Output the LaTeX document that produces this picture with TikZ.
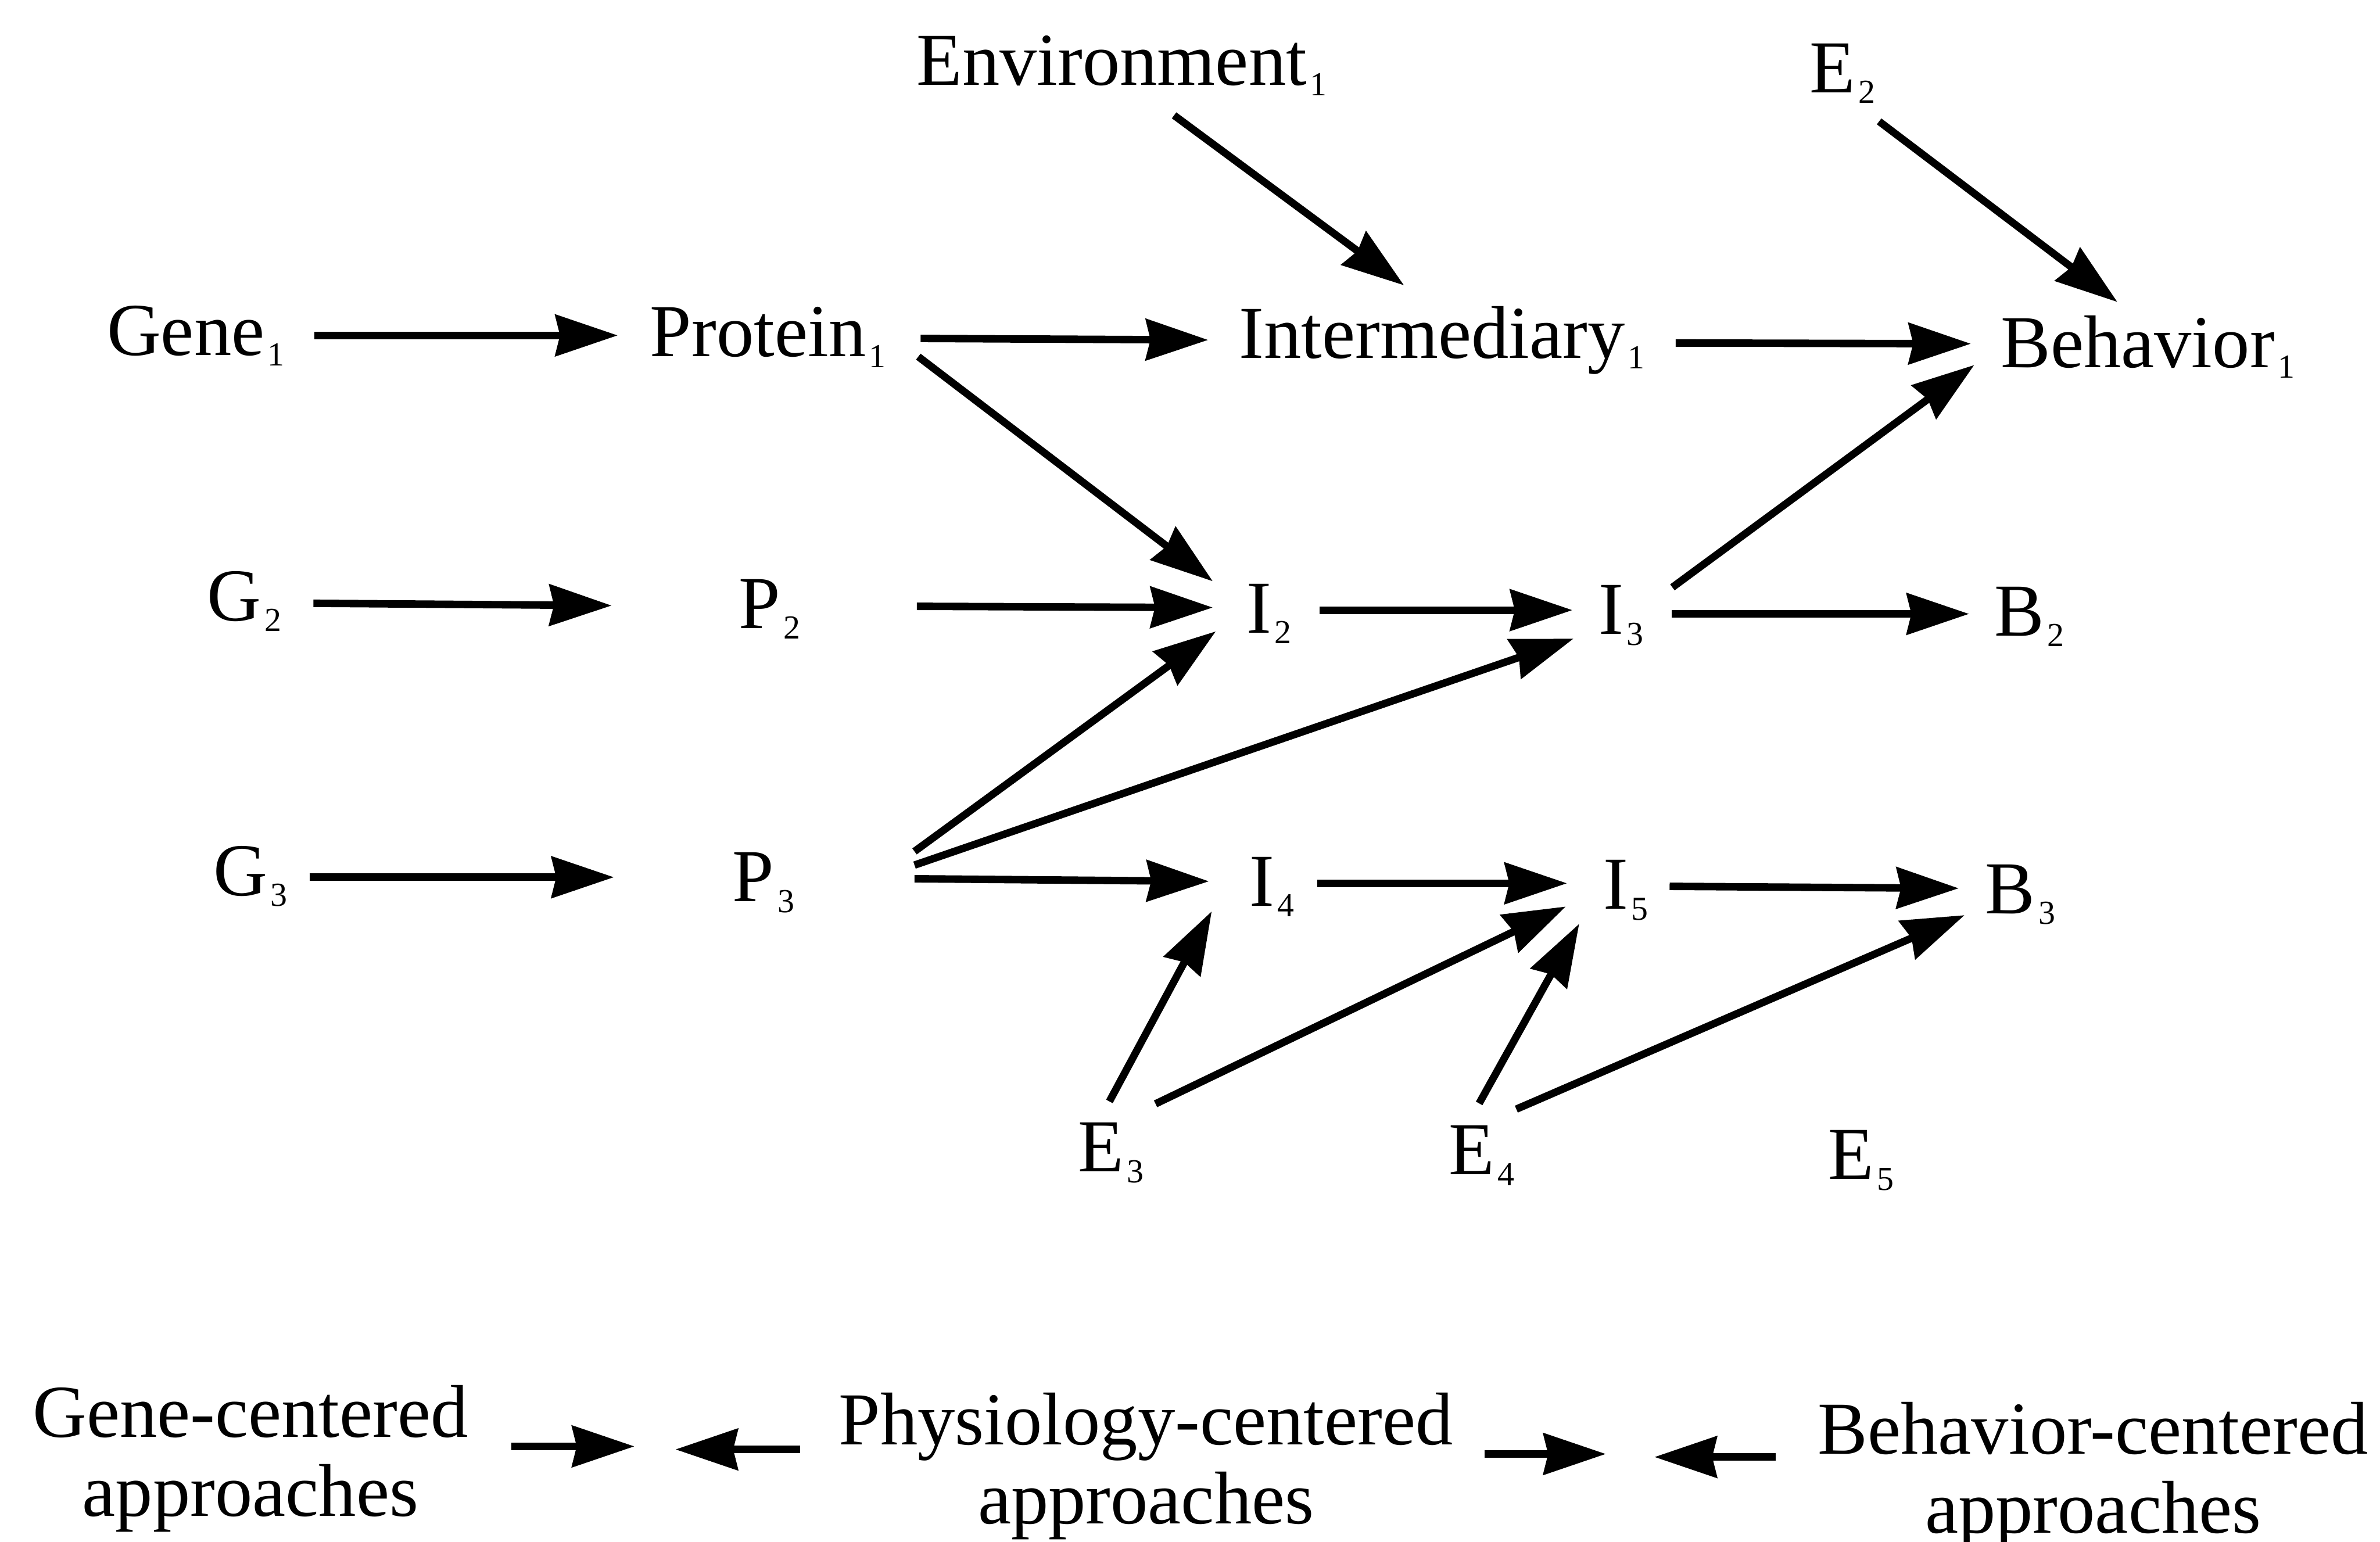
\documentclass[tikz,border=0pt]{standalone}
\usepackage{fontspec}
\setmainfont{Liberation Serif}
\usetikzlibrary{arrows.meta}
% small lowered index after a label
\newcommand\sbs[1]{\kern0.6pt\raisebox{-2pt}{\fontsize{6.3}{6.3}\selectfont #1}}
\begin{document}
\begin{tikzpicture}[x=0.01cm,y=-0.01cm,
  lbl/.style={anchor=base,inner sep=0pt,font=\fontsize{14}{14.8}\selectfont},
  arr/.style={line width=1.4pt,-{Stealth[length=0.41cm,width=0.27cm,inset=0.03cm]}}]
\useasboundingbox (0,0) rectangle (1568,1016);

% ---- labels (placed by text centre and baseline) ----
\node[lbl] (env) at (739,56)  {Environment\sbs{1}};
\node[lbl] (e2)  at (1214,61) {E\sbs{2}};

\node[lbl] (g1) at (129,234)  {Gene\sbs{1}};
\node[lbl] (p1) at (506,235)  {Protein\sbs{1}};
\node[lbl] (i1) at (950,236)  {Intermediary\sbs{1}};
\node[lbl] (b1) at (1415,242) {Behavior\sbs{1}};

\node[lbl] (g2) at (161,409)  {G\sbs{2}};
\node[lbl] (p2) at (507,414)  {P\sbs{2}};
\node[lbl] (i2) at (836,417)  {I\sbs{2}};
\node[lbl] (i3) at (1068,418) {I\sbs{3}};
\node[lbl] (b2) at (1337,419) {B\sbs{2}};

\node[lbl] (g3) at (165,590)  {G\sbs{3}};
\node[lbl] (p3) at (503,594)  {P\sbs{3}};
\node[lbl] (i4) at (838,597)  {I\sbs{4}};
\node[lbl] (i5) at (1071,599) {I\sbs{5}};
\node[lbl] (b3) at (1331,602) {B\sbs{3}};

\node[lbl] (e3) at (732,772)  {E\sbs{3}};
\node[lbl] (e4) at (976,774)  {E\sbs{4}};
\node[lbl] (e5) at (1226,777) {E\sbs{5}};

\node[lbl] (gc) at (165,947)  {\begin{tabular}[t]{@{}c@{}}Gene-centered\\approaches\end{tabular}};
\node[lbl] (pc) at (755,952)  {\begin{tabular}[t]{@{}c@{}}Physiology-centered\\approaches\end{tabular}};
\node[lbl] (bc) at (1379,958) {\begin{tabular}[t]{@{}c@{}}Behavior-centered\\approaches\end{tabular}};

% meeting points of the bottom arrows
\coordinate (gp1) at (418,953);
\coordinate (gp2) at (445,955);
\coordinate (pb1) at (1058,958);
\coordinate (pb2) at (1090,960);

% ---- top row ----
\draw[arr] ([shift={(78,-13)}]g1.base)      -- ([shift={(-99,-14)}]p1.base);
\draw[arr] ([shift={(100.5,-12)}]p1.base)   -- ([shift={(-154,-12)}]i1.base);
\draw[arr] ([shift={(154,-10)}]i1.base)     -- ([shift={(-116.5,-15.5)}]b1.base);
\draw[arr] ([shift={(34.5,20)}]env.base)    -- ([shift={(-25,-48)}]i1.base);
\draw[arr] ([shift={(24,19)}]e2.base)       -- ([shift={(-20,-43)}]b1.base);
\draw[arr] ([shift={(99,0)}]p1.base)        -- ([shift={(-37,-34)}]i2.base);

% ---- middle row ----
\draw[arr] ([shift={(45.5,-11.5)}]g2.base)  -- ([shift={(-104,-15)}]p2.base);
\draw[arr] ([shift={(97,-14.5)}]p2.base)    -- ([shift={(-37,-16.7)}]i2.base);
\draw[arr] ([shift={(33.5,-15)}]i2.base)    -- ([shift={(-32,-16)}]i3.base);
\draw[arr] ([shift={(33.4,-13.5)}]i3.base)  -- ([shift={(-39.7,-14.5)}]b2.base);
\draw[arr] ([shift={(33.8,-31)}]i3.base)    -- ([shift={(-114.3,-1.5)}]b1.base);

% ---- bottom row ----
\draw[arr] ([shift={(39,-12)}]g3.base)      -- ([shift={(-98.5,-16)}]p3.base);
\draw[arr] ([shift={(99.5,-33)}]p3.base)    -- ([shift={(-35,-1)}]i2.base);
\draw[arr] ([shift={(99.5,-24)}]p3.base)    -- ([shift={(-31.3,2.8)}]i3.base);
\draw[arr] ([shift={(99.5,-15)}]p3.base)    -- ([shift={(-41.5,-16.3)}]i4.base);
\draw[arr] ([shift={(30,-15)}]i4.base)      -- ([shift={(-38.6,-17)}]i5.base);
\draw[arr] ([shift={(29,-15)}]i5.base)      -- ([shift={(-40.5,-16.7)}]b3.base);

% ---- environmental inputs ----
\draw[arr] ([shift={(-1.1,-46.3)}]e3.base)  -- ([shift={(-39.7,3.5)}]i4.base);
\draw[arr] ([shift={(29.3,-44.7)}]e3.base)  -- ([shift={(-39.4,-1.7)}]i5.base);
\draw[arr] ([shift={(-1.5,-47)}]e4.base)    -- ([shift={(-30.6,9.7)}]i5.base);
\draw[arr] ([shift={(23,-43.2)}]e4.base)    -- ([shift={(-36.7,1)}]b3.base);

% ---- approaches converging ----
\draw[arr] ([shift={(172,6)}]gc.base)   -- (gp1);
\draw[arr] ([shift={(-228,3)}]pc.base)  -- (gp2);
\draw[arr] ([shift={(223,6)}]pc.base)   -- (pb1);
\draw[arr] ([shift={(-209,2)}]bc.base)  -- (pb2);
\end{tikzpicture}
\end{document}
